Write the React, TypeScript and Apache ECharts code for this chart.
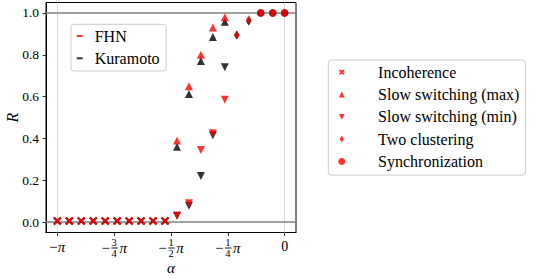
import React, { useEffect, useRef } from "react";
import * as echarts from "echarts";

// alpha grid: 20 points from -pi to 0
const alpha = [
  -3.14159, -2.97625, -2.8109, -2.64555, -2.48021, -2.31486, -2.14951, -1.98416, -1.81882, -1.65347,
  -1.48812, -1.32278, -1.15743, -0.99208, -0.82674, -0.66139, -0.49604, -0.33069, -0.16535, 0,
];

const N = null;
// FHN (red)
const fhnIncoherence = [0.005, 0.005, 0.005, 0.005, 0.005, 0.005, 0.005, 0.005, 0.005, 0.005, N, N, N, N, N, N, N, N, N, N];
const fhnSlowMax = [N, N, N, N, N, N, N, N, N, N, 0.39, 0.65, 0.8, 0.93, 0.98, N, N, N, N, N];
const fhnSlowMin = [N, N, N, N, N, N, N, N, N, N, 0.03, 0.09, 0.345, 0.425, 0.585, N, N, N, N, N];
const fhnTwoClustering = [N, N, N, N, N, N, N, N, N, N, N, N, N, N, N, 0.895, 0.967, N, N, N];
const fhnSync = [N, N, N, N, N, N, N, N, N, N, N, N, N, N, N, N, N, 1.0, 1.0, 1.0];
// Kuramoto (black)
const kurIncoherence = [0.005, 0.005, 0.005, 0.005, 0.005, 0.005, 0.005, 0.005, 0.005, 0.005, N, N, N, N, N, N, N, N, N, N];
const kurSlowMax = [N, N, N, N, N, N, N, N, N, N, 0.36, 0.612, 0.77, 0.885, 0.958, N, N, N, N, N];
const kurSlowMin = [N, N, N, N, N, N, N, N, N, N, 0.03, 0.078, 0.22, 0.415, 0.74, N, N, N, N, N];
const kurTwoClustering = [N, N, N, N, N, N, N, N, N, N, N, N, N, N, N, 0.895, 0.96, N, N, N];
const kurSync = [N, N, N, N, N, N, N, N, N, N, N, N, N, N, N, N, N, 1.0, 1.0, 1.0];

const modelNames = ["FHN", "Kuramoto"];
const stateNames = ["Incoherence", "Slow switching (max)", "Slow switching (min)", "Two clustering", "Synchronization"];

const xTickValues = [-Math.PI, -0.75 * Math.PI, -0.5 * Math.PI, -0.25 * Math.PI, 0];
const xTickNumer = ["", "3", "1", "1", ""];
const xTickDenom = ["", "4", "2", "4", ""];
const xTickPlain = ["−π", "", "", "", "0"];
const yTickValues = [0, 0.2, 0.4, 0.6, 0.8, 1.0];
const yTickLabels = ["0.0", "0.2", "0.4", "0.6", "0.8", "1.0"];

const FONT = "Liberation Serif";
const RED = "#ff0000";
const BLACK = "#000000";

const SYM_CROSS = "path://M0,0L10,10M10,0L0,10";
const SYM_UP = "path://M5,0L10,10L0,10Z";
const SYM_DOWN = "path://M0,0L10,0L5,10Z";
const SYM_DIAMOND = "path://M3,0L6,5L3,10L0,5Z";
const SYM_CIRCLE =
  "path://M0,5C0,2.24 2.24,0 5,0C7.76,0 10,2.24 10,5C10,7.76 7.76,10 5,10C2.24,10 0,7.76 0,5Z";
const LEG_CROSS = "path://M-3,-3M13,13M0,0L10,10M10,0L0,10";
const LEG_UP = "path://M5,-1M5,11M5,0L10,10L0,10Z";
const LEG_DOWN = "path://M5,-1M5,11M0,0L10,0L5,10Z";

function pts(vals: (number | null)[]) {
  const out: number[][] = [];
  vals.forEach((v, i) => {
    if (v !== null) out.push([alpha[i], v]);
  });
  return out;
}

function scatter(name: string, vals: (number | null)[], symbol: string, size: any, color: string, z: number, cross = false) {
  return {
    name,
    type: "scatter",
    data: pts(vals),
    symbol,
    symbolSize: size,
    z,
    itemStyle: cross
      ? { color: "transparent", borderColor: color, borderWidth: 2.2 }
      : { color, borderWidth: 0 },
  };
}

export default function App() {
  const ref = useRef<HTMLDivElement>(null);
  useEffect(() => {
    document.body.style.margin = "0";
    const chart = echarts.init(ref.current!, undefined, { renderer: "svg" });
    const richFrac = {
      n: { fontFamily: FONT, fontSize: 10.5, lineHeight: 8, color: "#000" },
      d: { fontFamily: FONT, fontSize: 10.5, lineHeight: 7, color: "#000" },
      m: { fontFamily: FONT, fontSize: 15, lineHeight: 4, color: "#000" },
      p: { fontFamily: FONT, fontSize: 15, fontStyle: "italic", lineHeight: 4, color: "#000" },
      sp: { fontFamily: FONT, fontSize: 13, lineHeight: 4, width: 1.5 },
      bar: { fontFamily: FONT, fontSize: 4, lineHeight: 4, width: 6.5, height: 0.9, backgroundColor: "#000" },
      s: { fontFamily: FONT, fontSize: 15, lineHeight: 17, color: "#000" },
      sp2: { fontFamily: FONT, fontSize: 15, fontStyle: "italic", lineHeight: 17, color: "#000" },
      z: { fontFamily: FONT, fontSize: 14, lineHeight: 17, color: "#000" },
    };
    const option: any = {
      animation: false,
      backgroundColor: "#ffffff",
      textStyle: { fontFamily: FONT },
      grid: {
        left: 46,
        top: 2.5,
        width: 250,
        height: 230,
        show: true,
        borderColor: "#000",
        borderWidth: 1,
        backgroundColor: "transparent",
        outerBoundsMode: "none",
        containLabel: false,
      },
      xAxis: {
        type: "value",
        min: -Math.PI - 0.157,
        max: 0.157,
        name: "α",
        nameLocation: "middle",
        nameGap: 29.7,
        nameMoveOverlap: false,
        nameTextStyle: { fontFamily: FONT, fontStyle: "italic", fontSize: 15, lineHeight: 12, color: "#000" },
        axisLine: { show: true, onZero: false, lineStyle: { color: "#000", width: 1 } },
        axisTick: { show: true, length: 3.5, customValues: xTickValues, lineStyle: { color: "#000", width: 0.8 } },
        splitLine: { show: false },
        axisLabel: {
          customValues: xTickValues,
          margin: 5.5,
          fontFamily: FONT,
          formatter: (v: number) => {
            let idx = 0;
            xTickValues.forEach((t, i) => {
              if (Math.abs(t - v) < 1e-6) idx = i;
            });
            const plain = xTickPlain[idx];
            if (plain === "0") return "{z|0}";
            if (plain) return "{s|−}{sp2|π}";
            return "{n|" + xTickNumer[idx] + "}\n{m|−}{sp| }{bar| }{sp| }{p|π}\n{d|" + xTickDenom[idx] + "}";
          },
          rich: richFrac,
        },
      },
      yAxis: {
        type: "value",
        min: -0.05,
        max: 1.05,
        name: "R",
        nameLocation: "middle",
        nameGap: 26,
        nameMoveOverlap: false,
        nameTextStyle: { fontFamily: FONT, fontStyle: "italic", fontSize: 16, color: "#000" },
        axisLine: { show: true, onZero: false, lineStyle: { color: "#000", width: 1 } },
        axisTick: { show: true, length: 3.5, customValues: yTickValues, lineStyle: { color: "#000", width: 0.8 } },
        splitLine: { show: false },
        axisLabel: {
          customValues: yTickValues,
          margin: 7,
          fontFamily: FONT,
          fontSize: 13.5,
          color: "#000",
          formatter: (v: number) => {
            let idx = 0;
            yTickValues.forEach((t, i) => {
              if (Math.abs(t - v) < 1e-6) idx = i;
            });
            return yTickLabels[idx];
          },
        },
      },
      legend: [
        {
          orient: "vertical",
          left: 71,
          top: 24.3,
          align: "left",
          padding: [3.7, 6.6, 4.7, 5.7],
          itemGap: 6.3,
          itemWidth: 6,
          itemHeight: 2,
          borderColor: "#cccccc",
          borderWidth: 1,
          borderRadius: 3,
          backgroundColor: "rgba(255,255,255,0.8)",
          selectedMode: false,
          textStyle: { fontFamily: FONT, fontSize: 16, color: "#000", padding: [0, 0, 0, 7] },
          data: modelNames.map((n) => ({ name: n, icon: "rect" })),
        },
        {
          orient: "vertical",
          left: 328.3,
          top: 60,
          align: "left",
          padding: [4.2, 6, 5.7, 9],
          itemGap: 6.3,
          itemWidth: 33.4,
          itemHeight: 7,
          symbolKeepAspect: true,
          borderColor: "#cccccc",
          borderWidth: 1,
          borderRadius: 3,
          backgroundColor: "rgba(255,255,255,0.8)",
          selectedMode: false,
          textStyle: { fontFamily: FONT, fontSize: 16, color: "#000", padding: [0, 0, 0, 14.6] },
          data: [
            { name: stateNames[0], icon: LEG_CROSS },
            { name: stateNames[1], icon: LEG_UP },
            { name: stateNames[2], icon: LEG_DOWN },
            { name: stateNames[3], icon: SYM_DIAMOND },
            { name: stateNames[4], icon: SYM_CIRCLE },
          ],
        },
      ],
      series: [
        {
          name: "refLines",
          type: "line",
          data: [],
          z: 1,
          silent: true,
          markLine: {
            z: 1,
            silent: true,
            symbol: ["none", "none"],
            label: { show: false },
            animation: false,
            data: [
              { xAxis: -Math.PI, lineStyle: { color: "#d9d9d9", width: 1, type: "solid" } },
              { xAxis: 0, lineStyle: { color: "#d9d9d9", width: 1, type: "solid" } },
              { yAxis: 0, lineStyle: { color: "#808080", width: 1.5, type: "solid" } },
              { yAxis: 1, lineStyle: { color: "#808080", width: 1.5, type: "solid" } },
            ],
          },
        },
        { name: modelNames[0], type: "scatter", data: [], itemStyle: { color: RED } },
        { name: modelNames[1], type: "scatter", data: [], itemStyle: { color: BLACK } },
        scatter("K " + stateNames[0], kurIncoherence, SYM_CROSS, 7, BLACK, 3, true),
        scatter("K " + stateNames[1], kurSlowMax, SYM_UP, 8, BLACK, 3),
        scatter("K " + stateNames[2], kurSlowMin, SYM_DOWN, 8, BLACK, 3),
        scatter("K " + stateNames[3], kurTwoClustering, SYM_DIAMOND, [5.5, 9], BLACK, 3),
        scatter("K " + stateNames[4], kurSync, SYM_CIRCLE, 7.5, BLACK, 3),
        scatter(stateNames[0], fhnIncoherence, SYM_CROSS, 7, RED, 4, true),
        scatter(stateNames[1], fhnSlowMax, SYM_UP, 8, RED, 4),
        scatter(stateNames[2], fhnSlowMin, SYM_DOWN, 8, RED, 4),
        scatter(stateNames[3], fhnTwoClustering, SYM_DIAMOND, [5.5, 9], RED, 4),
        scatter(stateNames[4], fhnSync, SYM_CIRCLE, 7.5, RED, 4),
      ],
    };
    chart.setOption(option);
    return () => chart.dispose();
  }, []);
  return <div ref={ref} style={{ width: 555, height: 278 }} />;
}
